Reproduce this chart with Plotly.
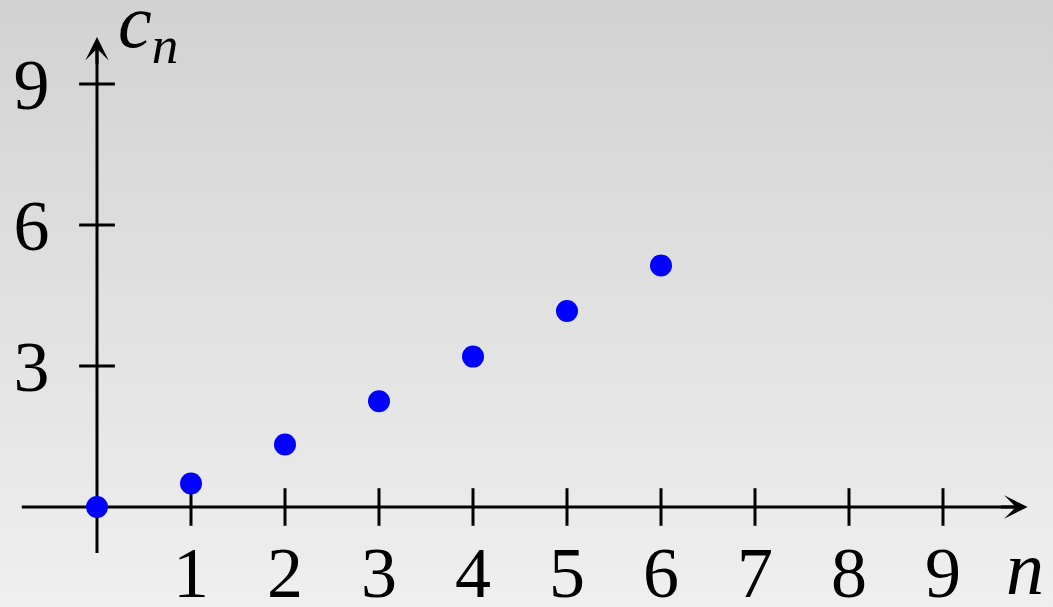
import plotly.graph_objects as go

# ---- data ----
n_vals = [0, 1, 2, 3, 4, 5, 6]
c_vals = [0.0, 0.5, 1.33, 2.25, 3.2, 4.17, 5.14]
x_ticks = [1, 2, 3, 4, 5, 6, 7, 8, 9]
x_tick_labels = ["1", "2", "3", "4", "5", "6", "7", "8", "9"]
y_ticks = [3, 6, 9]
y_tick_labels = ["3", "6", "9"]
x_axis_extent = [-0.8, 9.9]
y_axis_extent = [-0.98, 10.0]

# ---- style ----
W, H = 1053, 607
X_RANGE = [-97 / 94, (W - 97) / 94]
Y_RANGE = [(507 - H) / 47, 507 / 47]
FONT = "Liberation Serif"
LW = 3
XT_HALF = 0.40   # half length of x tick marks (data units of y)
YT_HALF = 0.19   # half length of y tick marks (data units of x)

fig = go.Figure()

# gradient background
fig.add_trace(go.Scatter(
    x=[X_RANGE[0], X_RANGE[1], X_RANGE[1], X_RANGE[0], X_RANGE[0]],
    y=[Y_RANGE[0], Y_RANGE[0], Y_RANGE[1], Y_RANGE[1], Y_RANGE[0]],
    mode="lines", line=dict(width=0), fill="toself",
    fillgradient=dict(type="vertical",
                      colorscale=[[0, "#efefef"], [1, "#d2d2d2"]]),
    hoverinfo="skip", showlegend=False))

# axis lines (tips handled by annotations)
fig.add_trace(go.Scatter(
    x=[x_axis_extent[0], x_axis_extent[1] - 0.1, None, 0, 0],
    y=[0, 0, None, y_axis_extent[0], y_axis_extent[1] - 0.2],
    mode="lines", line=dict(color="black", width=LW),
    hoverinfo="skip", showlegend=False))

# tick marks
tx, ty = [], []
for t in x_ticks:
    tx += [t, t, None]
    ty += [-XT_HALF, XT_HALF, None]
for t in y_ticks:
    tx += [-YT_HALF, YT_HALF, None]
    ty += [t, t, None]
fig.add_trace(go.Scatter(x=tx, y=ty, mode="lines",
                         line=dict(color="black", width=LW),
                         hoverinfo="skip", showlegend=False))

# points
fig.add_trace(go.Scatter(x=n_vals, y=c_vals, mode="markers",
                         marker=dict(color="#0000ff", size=22, line=dict(width=0)),
                         showlegend=False))

annotations = [
    dict(x=x_axis_extent[1], y=0, ax=x_axis_extent[1] - 0.3, ay=0,
         xref="x", yref="y", axref="x", ayref="y", text="", showarrow=True,
         arrowhead=3, arrowwidth=LW, arrowsize=1.3, arrowcolor="black"),
    dict(x=0, y=y_axis_extent[1], ax=0, ay=y_axis_extent[1] - 0.6,
         xref="x", yref="y", axref="x", ayref="y", text="", showarrow=True,
         arrowhead=3, arrowwidth=LW, arrowsize=1.3, arrowcolor="black"),
    dict(x=116 / W, y=1 + 23 / H, xref="paper", yref="paper",
         xanchor="left", yanchor="top",
         text="<i>c</i><sub><i>n</i></sub>", showarrow=False,
         font=dict(family=FONT, size=76, color="black")),
    dict(x=1004 / W, y=1 - 612 / H, xref="paper", yref="paper",
         xanchor="left", yanchor="bottom",
         text="<i>n</i>", showarrow=False,
         font=dict(family=FONT, size=76, color="black")),
]

fig.update_layout(
    width=W, height=H, margin=dict(l=0, r=0, t=0, b=0),
    paper_bgcolor="#e0e0e0", plot_bgcolor="rgba(0,0,0,0)",
    annotations=annotations, showlegend=False,
    xaxis=dict(range=X_RANGE, showgrid=False, zeroline=False, showline=False,
               tickvals=x_ticks, ticktext=x_tick_labels, ticks="outside",
               ticklen=3, tickcolor="rgba(0,0,0,0)", anchor="free",
               position=100 / H, automargin=False,
               tickfont=dict(family=FONT, size=72, color="black")),
    yaxis=dict(range=Y_RANGE, showgrid=False, zeroline=False, showline=False,
               tickvals=y_ticks, ticktext=y_tick_labels, ticks="outside",
               ticklen=33, tickcolor="rgba(0,0,0,0)", anchor="free",
               position=97 / W, automargin=False,
               tickfont=dict(family=FONT, size=72, color="black")),
)

fig.write_html("out.html", config={"displayModeBar": False},
               post_script="document.body.style.margin='0px';")
